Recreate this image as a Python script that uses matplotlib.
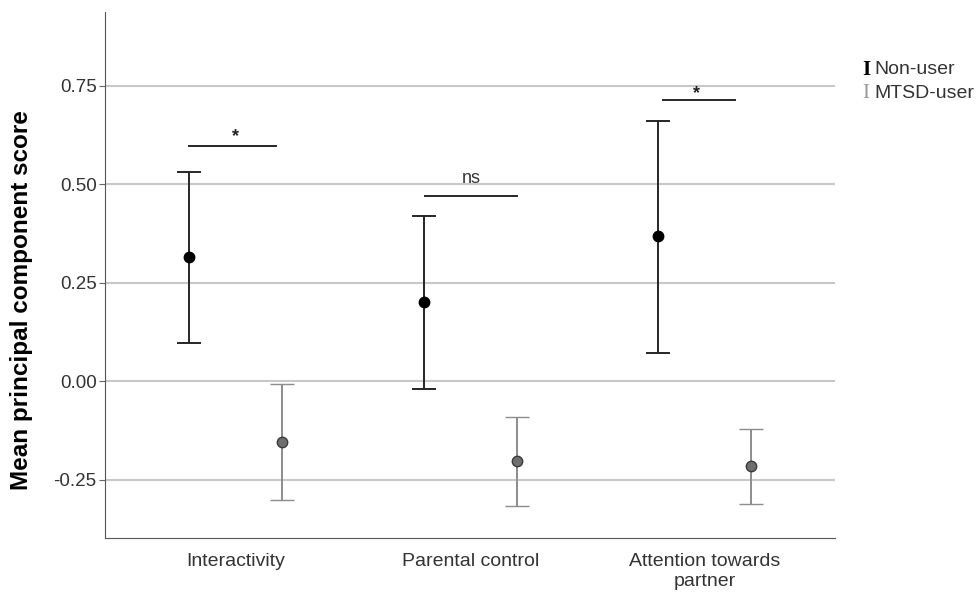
import matplotlib.pyplot as plt
import numpy as np

plt.rcParams['font.family'] = ['Liberation Sans', 'DejaVu Sans']

categories = ['Interactivity', 'Parental control', 'Attention towards\npartner']
nonuser_mean = [0.315, 0.200, 0.368]
nonuser_low = [0.096, -0.020, 0.071]
nonuser_high = [0.530, 0.419, 0.660]
mtsd_mean = [-0.155, -0.203, -0.216]
mtsd_low = [-0.302, -0.317, -0.312]
mtsd_high = [-0.008, -0.091, -0.122]
# significance annotations (bar height, bar ends relative to category, label position)
sig_labels = ['*', 'ns', '*']
sig_y = [0.596, 0.469, 0.713]
sig_x0 = [-0.198, -0.194, -0.179]
sig_x1 = [0.173, 0.198, 0.128]
sig_tx = [0.0, 0.006, -0.034]
sig_ty = [0.622, 0.515, 0.731]

fig = plt.figure(figsize=(9.79, 5.92), dpi=100)
ax = fig.add_axes([105 / 979, 54 / 592, 730 / 979, 526 / 592])

x = np.arange(len(categories))
off = 0.198

for yv in [-0.25, 0, 0.25, 0.5, 0.75]:
    ax.axhline(yv, color='#c8c8c8', lw=1.5, zorder=0)

nm = np.array(nonuser_mean)
mm = np.array(mtsd_mean)
ax.errorbar(x - off, nm, yerr=[nm - np.array(nonuser_low), np.array(nonuser_high) - nm],
            fmt='o', color='black', ecolor='#262626', elinewidth=1.4, capsize=8.3,
            capthick=1.4, ms=7.5, zorder=3)
ax.errorbar(x + off, mm, yerr=[mm - np.array(mtsd_low), np.array(mtsd_high) - mm],
            fmt='o', mfc='#6e6e6e', mec='#3a3a3a', mew=1.0, ecolor='#8c8c8c',
            elinewidth=1.4, capsize=8.3, capthick=1.4, ms=7.5, zorder=3)

for i in range(len(categories)):
    ax.plot([x[i] + sig_x0[i], x[i] + sig_x1[i]], [sig_y[i], sig_y[i]], color='#262626', lw=1.4)
    if sig_labels[i] == '*':
        ax.text(x[i] + sig_tx[i], sig_ty[i], '*', ha='center', va='center', fontsize=13,
                color='#222222', fontweight='bold')
    else:
        ax.text(x[i] + sig_tx[i], sig_ty[i], 'ns', ha='center', va='center', fontsize=13,
                color='#333333')

ax.set_xlim(-0.556, 2.554)
ax.set_ylim(-0.398, 0.937)
ax.set_xticks(x)
ax.set_xticklabels(categories, fontsize=14, color='#333333', linespacing=1.2)
ax.set_yticks([-0.25, 0, 0.25, 0.5, 0.75])
ax.set_yticklabels(['-0.25', '0.00', '0.25', '0.50', '0.75'], fontsize=13.5, color='#333333')
ax.tick_params(axis='y', length=4, pad=2, color='#666666')
ax.tick_params(axis='x', length=0, pad=11)
ax.set_ylabel('Mean principal component score', fontsize=17.5, fontweight='bold')
ax.yaxis.set_label_coords(-0.099, (538 - 300) / 526)

for s in ['top', 'right']:
    ax.spines[s].set_visible(False)
for s in ['left', 'bottom']:
    ax.spines[s].set_color('#555555')

# legend drawn as glyph + text, like the original's error-bar icons
legend_labels = ['Non-user', 'MTSD-user']
legend_colors = ['black', '#999999']
for j, (lab, col) in enumerate(zip(legend_labels, legend_colors)):
    yy = 1 - (70 + 24 * j) / 592
    fig.text(866 / 979, yy, 'I', family='Liberation Serif', fontsize=15, color=col,
             ha='center', va='center', fontweight='bold' if j == 0 else 'normal')
    fig.text(874 / 979, yy, lab, fontsize=14, color='#333333', ha='left', va='center')

fig.savefig('out.png', dpi=100)
